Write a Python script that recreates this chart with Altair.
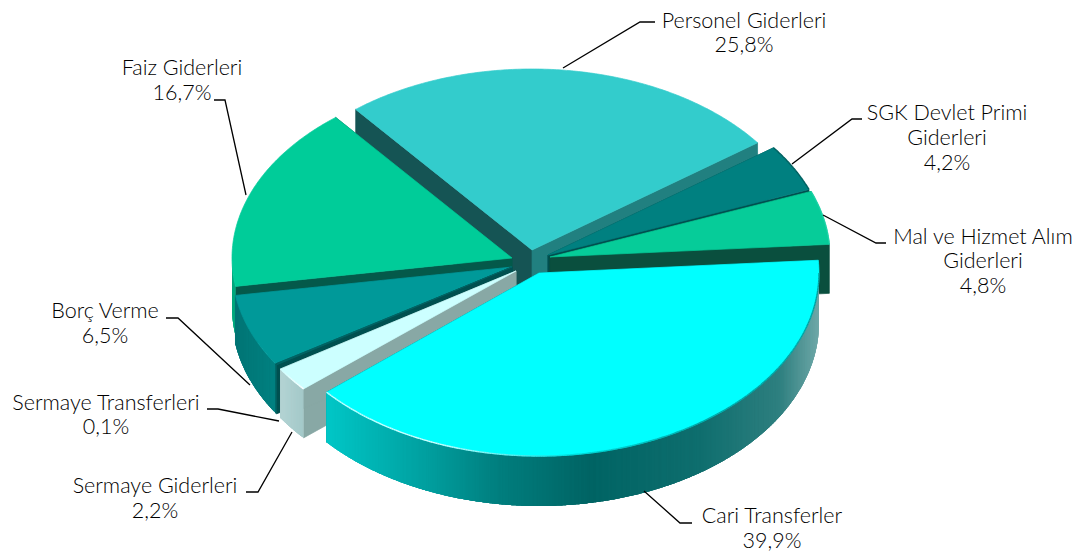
import math
import altair as alt
import pandas as pd

# ---- data ----
CATEGORIES = ["Cari Transferler", "Sermaye Giderleri", "Sermaye Transferleri", "Borç Verme",
              "Faiz Giderleri", "Personel Giderleri", "SGK Devlet Primi Giderleri", "Mal ve Hizmet Alım Giderleri"]
VALUES = [39.9, 2.2, 0.1, 6.5, 16.7, 25.8, 4.2, 4.8]
TOP_COLORS = ["#00FFFF", "#CCFFFF", "#006666", "#009999", "#00CC99", "#33CCCC", "#008080", "#06CC99"]
CUT_COLORS = ["#006666", "#88A8A5", "#005050", "#005A5A", "#04594A", "#218080", "#004F4F", "#0A4F3E"]
CUT2_COLORS = ["#006666", "#88A8A5", "#005050", "#005A5A", "#04594A", "#155454", "#004F4F", "#0A4F3E"]
# slice tips (exploded centres) on the page
TIPS = [(539, 273), (516, 271), (512, 267), (512, 267), (512, 258), (532, 250), (548, 255), (550, 257)]
DRAW_ORDER = [5, 4, 6, 7, 3, 2, 1, 0]
WALLS = {
    0: [(328, "#00C6C6"), (420, "#00A2A2"), (500, "#007E7E"), (590, "#006464"), (700, "#0F6E6E"), (780, "#2F8080"), (822, "#75ACAC")],
    1: [(280, "#B4D4D4"), (305, "#A2C8C8")],
    2: [(270, "#007070"), (285, "#007070")],
    3: [(230, "#007474"), (280, "#008282")],
    4: [(225, "#00A87E"), (240, "#00A87E")],
}
RIM_GLOW = {
    0: [(328, "#BFFFFF"), (430, "#D8FFFF"), (500, "#70F0F0"), (570, "#00DCDC"), (700, "#00A8A8"), (822, "#009C9C")],
    1: [(280, "#CCFFFF"), (292, "#E8FFFF"), (305, "#FFFFFF")],
    6: [(770, "#005F5F"), (810, "#005F5F")],
    7: [(805, "#14CFA2"), (830, "#1CD2A6")],
}
LABEL_LINES = [
    (772, 517, "Cari Transferler"), (772, 542, "39,9%"),
    (155, 487, "Sermaye Giderleri"), (155, 512, "2,2%"),
    (106, 404, "Sermaye Transferleri"), (106, 428, "0,1%"),
    (105, 312, "Borç Verme"), (105, 337, "6,5%"),
    (182, 69, "Faiz Giderleri"), (182, 94, "16,7%"),
    (744, 22, "Personel Giderleri"), (744, 46, "25,8%"),
    (947, 114, "SGK Devlet Primi"), (947, 139, "Giderleri"), (947, 164, "4,2%"),
    (983, 238, "Mal ve Hizmet Alım"), (983, 262, "Giderleri"), (983, 287, "4,8%"),
]
LEADERS = [
    [(692, 523), (680, 523), (644, 491)],
    [(246, 492), (258, 492), (292, 432)],
    [(207, 409), (218, 409), (279, 421)],
    [(166, 318), (178, 318), (250, 385)],
    [(214, 100), (225, 100), (246, 195)],
    [(655, 22), (640, 22), (563, 68)],
    [(862, 119), (852, 119), (792, 164)],
    [(886, 243), (876, 243), (823, 215)],
]

A, B, H = 280, 181, 49
MINOR_B = {0: 183}
WALL_H = {0: 50}
START = -4.0
PAGE = 8


def hex2rgb(c):
    return tuple(int(c[i:i + 2], 16) for i in (1, 3, 5))


def ramp(stops, x):
    if x <= stops[0][0]:
        return stops[0][1]
    for (x0, c0), (x1, c1) in zip(stops, stops[1:]):
        if x <= x1:
            t = (x - x0) / (x1 - x0)
            a, b = hex2rgb(c0), hex2rgb(c1)
            return "#%02x%02x%02x" % tuple(round(p + (q - p) * t) for p, q in zip(a, b))
    return stops[-1][1]


def pt(x, y):
    return [x - PAGE, y - PAGE]


def polygon(points, fill, sw=0.7):
    ring = [pt(*p) for p in points]
    ring.append(ring[0])
    return {"type": "Feature", "geometry": {"type": "Polygon", "coordinates": [ring]},
            "properties": {"fill": fill, "sw": sw}}


def line(points, color="#000000"):
    return {"type": "Feature", "geometry": {"type": "LineString", "coordinates": [pt(*p) for p in points]},
            "properties": {"stroke": color}}


def rim(i, deg):
    r = math.radians(deg)
    tip = TIPS[i]
    return (tip[0] + A * math.cos(r), tip[1] + MINOR_B.get(i, B) * math.sin(r))


total = sum(VALUES)
spans, a0 = [], START
for v in VALUES:
    spans.append((a0, a0 + 360 * v / total))
    a0 = spans[-1][1]

shapes, glows = [], []
for i in DRAW_ORDER:
    t0, t1 = spans[i]
    tip = TIPS[i]
    h = WALL_H.get(i, H)
    for deg, col in ((t0, CUT2_COLORS[i]), (t1, CUT_COLORS[i])):
        p = rim(i, deg)
        shapes.append(polygon([tip, p, (p[0], p[1] + h), (tip[0], tip[1] + h)], col))
    if i in WALLS:
        steps = max(2, int((t1 - t0) * 4))
        step = (t1 - t0) / steps
        for k in range(steps):
            d0 = t0 + step * k
            d1 = min(t1, d0 + step * 4)  # overlapping strips leave no seams
            if math.sin(math.radians(d0 + step / 2)) <= 0:
                continue
            sub = [rim(i, d0 + (d1 - d0) * q / 4) for q in range(5)]
            col = ramp(WALLS[i], rim(i, d0 + step / 2)[0])
            low = [(x, y + h) for x, y in reversed(sub)]
            shapes.append(polygon(sub + low, col, 0))
    n = max(3, int((t1 - t0) * 2))
    arc = [rim(i, t0 + (t1 - t0) * k / n) for k in range(n + 1)]
    shapes.append(polygon([tip] + arc, TOP_COLORS[i]))

for i, stops in RIM_GLOW.items():
    t0, t1 = spans[i]
    n = max(4, int((t1 - t0) * 2))
    for k in range(n):
        d0, d1 = t1 - (t1 - t0) * k / n, t1 - (t1 - t0) * (k + 1) / n
        if i in (0, 1) and math.sin(math.radians(d1)) < 0:
            continue
        p0, p1 = rim(i, d0), rim(i, d1)
        glows.append(line([p0, p1], ramp(stops, (p0[0] + p1[0]) / 2)))

identity = dict(type="identity", scale=1, translate=[0, 0])

solid = alt.Chart(alt.Data(values=shapes)).mark_geoshape().encode(
    fill=alt.Fill("properties.fill:N", scale=None),
    stroke=alt.Stroke("properties.fill:N", scale=None),
    strokeWidth=alt.StrokeWidth("properties.sw:Q", scale=None),
).project(**identity)

glow = alt.Chart(alt.Data(values=glows)).mark_geoshape(filled=False, strokeWidth=1.4).encode(
    stroke=alt.Stroke("properties.stroke:N", scale=None),
).project(**identity)

leaders = alt.Chart(alt.Data(values=[line(l) for l in LEADERS])).mark_geoshape(
    filled=False, stroke="#000000", strokeWidth=1.3
).project(**identity)

labels = pd.DataFrame([{"x": x - PAGE, "y": y - PAGE, "t": s} for x, y, s in LABEL_LINES])
text = alt.Chart(labels).mark_text(font="Lato", fontSize=21.5, fontWeight=300, color="#000000", baseline="middle", align="center").encode(
    x=alt.X("x:Q", scale=None, axis=None),
    y=alt.Y("y:Q", scale=None, axis=None),
    text="t:N",
)

chart = alt.layer(solid, glow, leaders, text).properties(
    width=1068, height=547, padding=0, autosize=alt.AutoSizeParams(type="none"), background="#FFFFFF"
).configure_view(stroke=None)

chart.save("out.html", embed_options={"renderer": "svg", "actions": False})
